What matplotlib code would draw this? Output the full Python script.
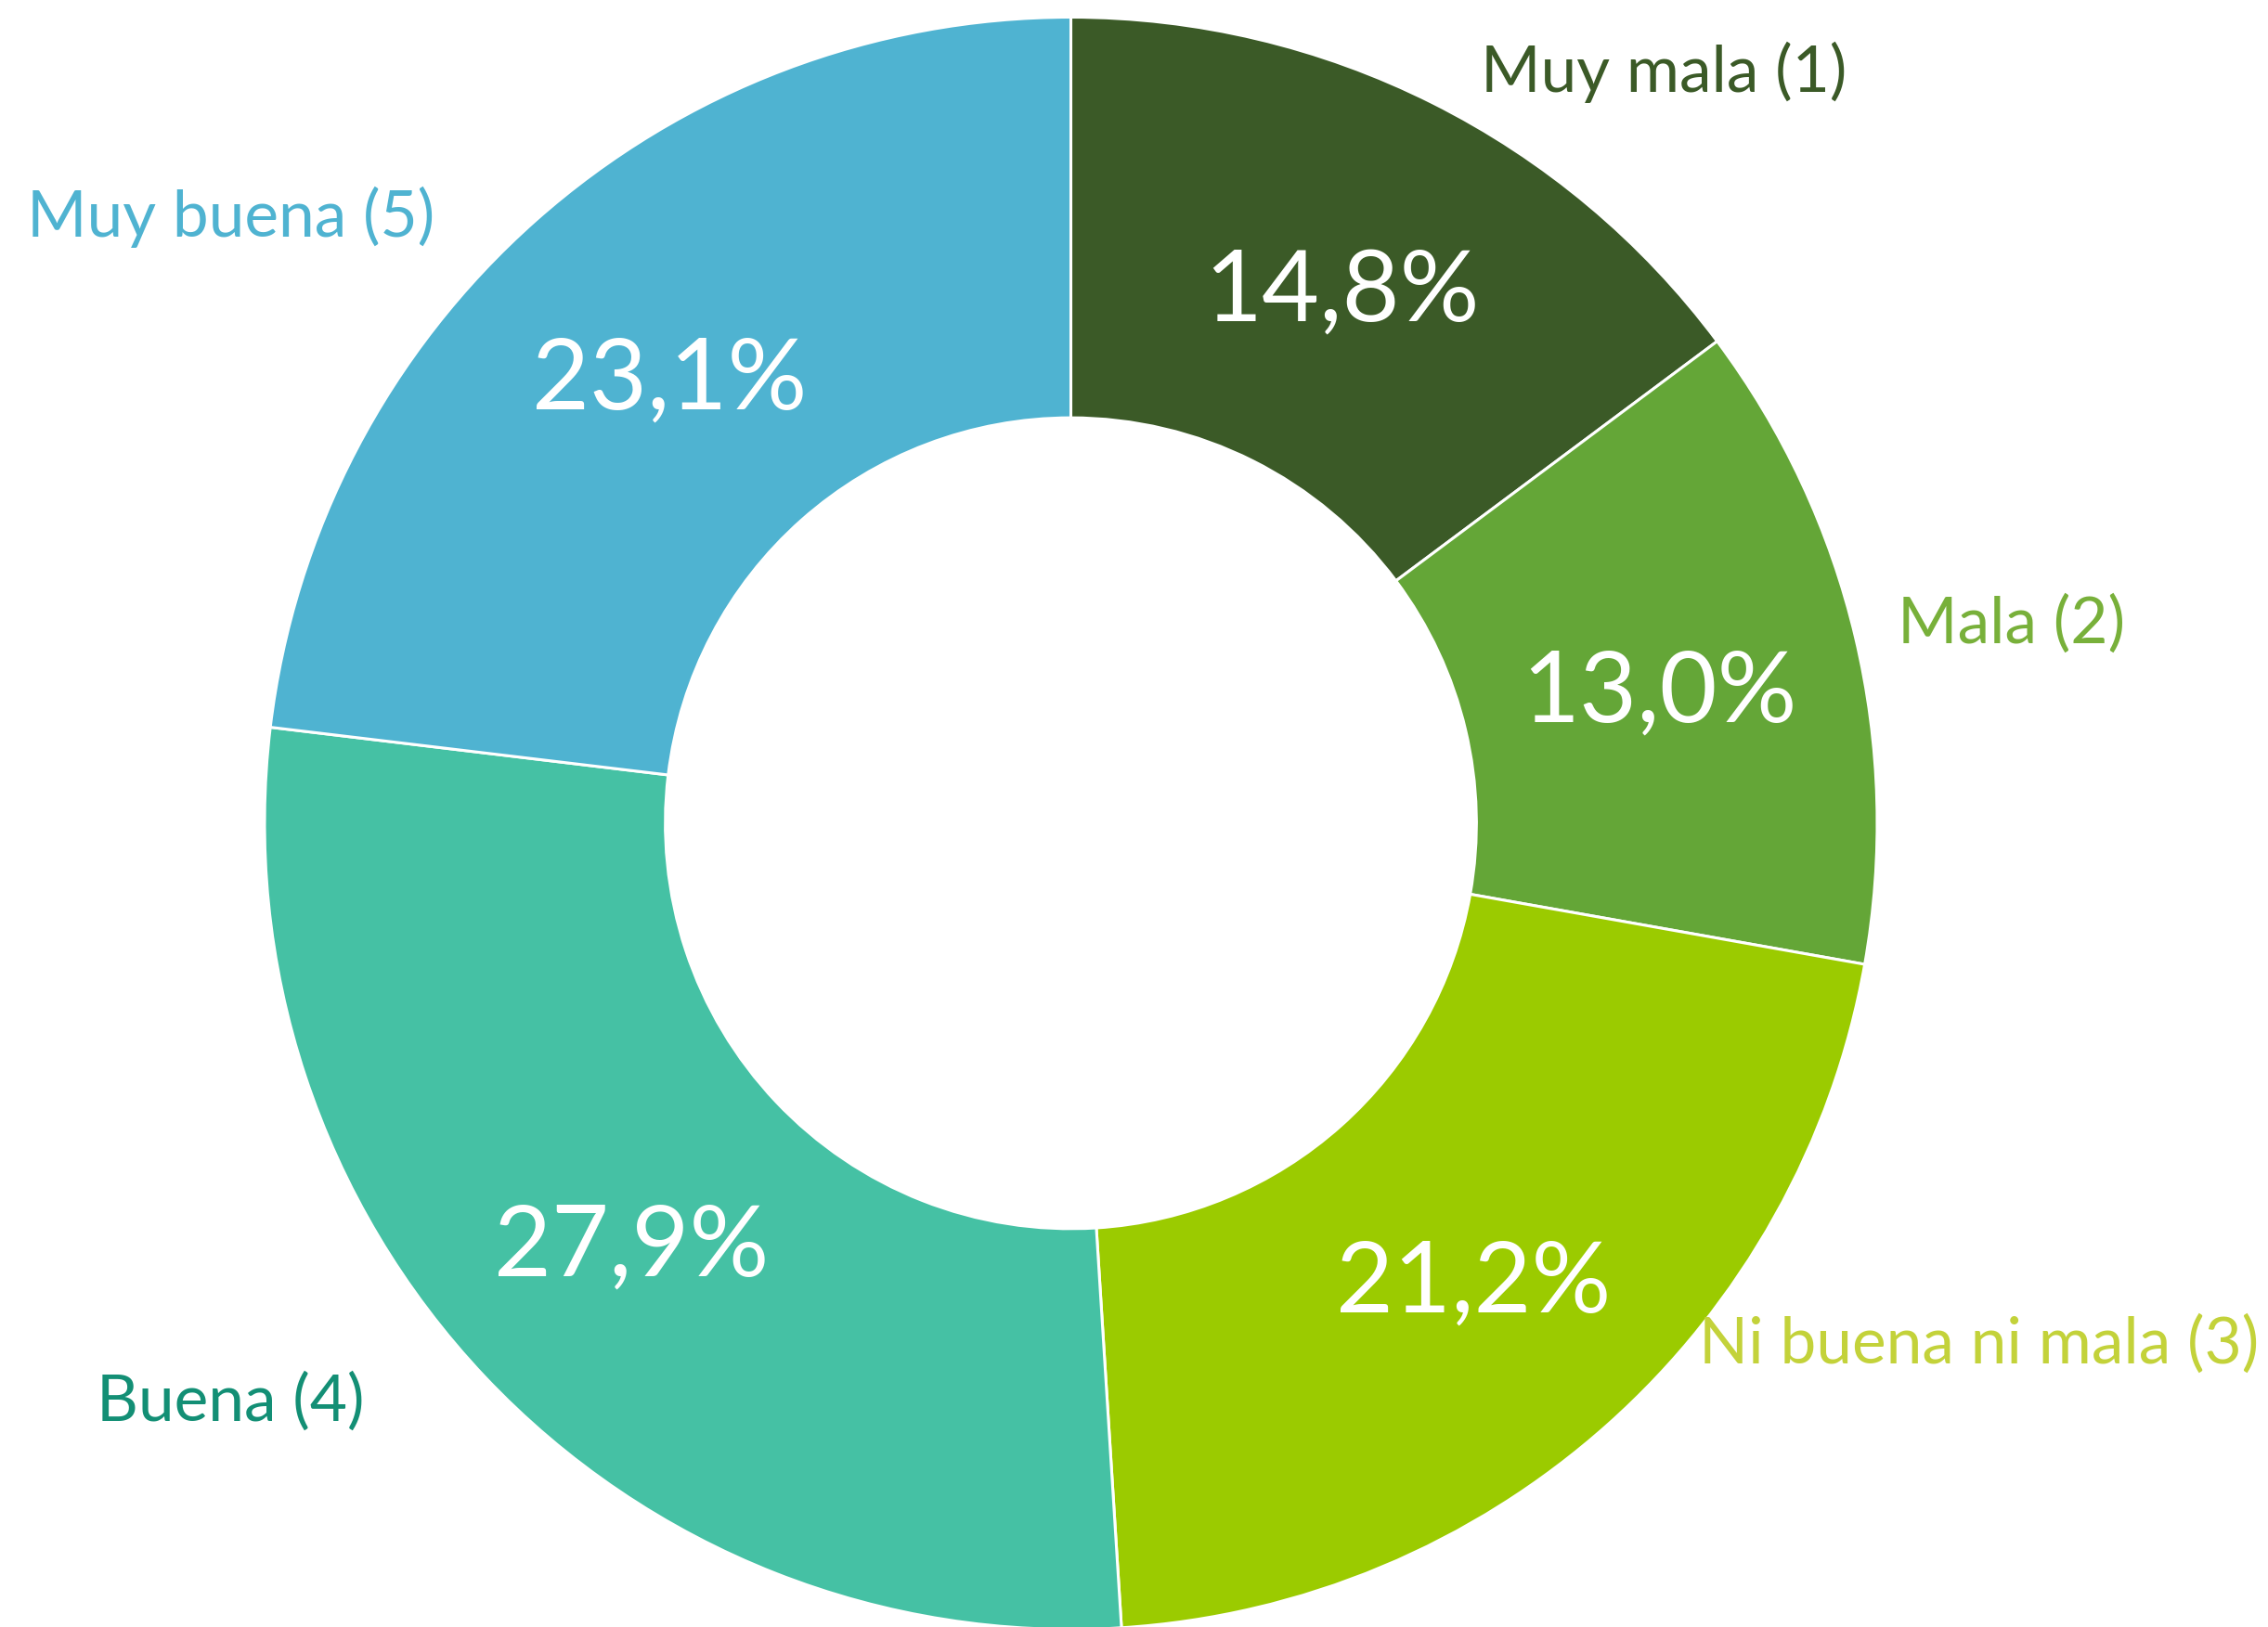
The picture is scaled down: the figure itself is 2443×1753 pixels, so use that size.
import matplotlib.pyplot as plt

categorias = ["Muy mala (1)", "Mala (2)", "Ni buena ni mala (3)", "Buena (4)", "Muy buena (5)"]
porcentajes = [14.8, 13.0, 21.2, 27.9, 23.1]
colores = ["#3b5a27", "#64a637", "#9bcb00", "#45c1a4", "#4fb3d1"]
colores_texto = ["#3b5a27", "#78b03a", "#c3d23a", "#138f75", "#4fb3d1"]

# posiciones de las etiquetas de categoria (en radios desde el centro)
pos_etiquetas = [(0.735, 0.932), (1.167, 0.247), (1.126, -0.647), (-1.042, -0.718), (-1.042, 0.752)]

plt.rcParams['font.family'] = ['Lato', 'DejaVu Sans']

fig = plt.figure(figsize=(24.43, 17.53), dpi=100)
ax = fig.add_axes([0, 0, 1, 1])

escala = 868.5  # px por radio
cx, cy = 1153.5, 887

wedges, textos, pcts = ax.pie(
    porcentajes, colors=colores, startangle=90, counterclock=False,
    radius=1.0, wedgeprops=dict(width=0.497, edgecolor='white', linewidth=2.2),
    autopct=lambda p: f"{p:.1f}%".replace('.', ','), pctdistance=0.75,
    textprops=dict(color='white', fontsize=77))
ax.set_xlim(-cx / escala, (2443 - cx) / escala)
ax.set_ylim((cy - 1753) / escala, cy / escala)
ax.set_aspect('auto')
ax.axis('off')

# bajar un poco los porcentajes
for t in pcts:
    x, y = t.get_position()
    t.set_position((x, y - 0.012))

for nombre, (x, y), c in zip(categorias, pos_etiquetas, colores_texto):
    ax.text(x, y, nombre, color=c, fontsize=50, ha='center', va='center')

fig.savefig('out.png', dpi=100)
